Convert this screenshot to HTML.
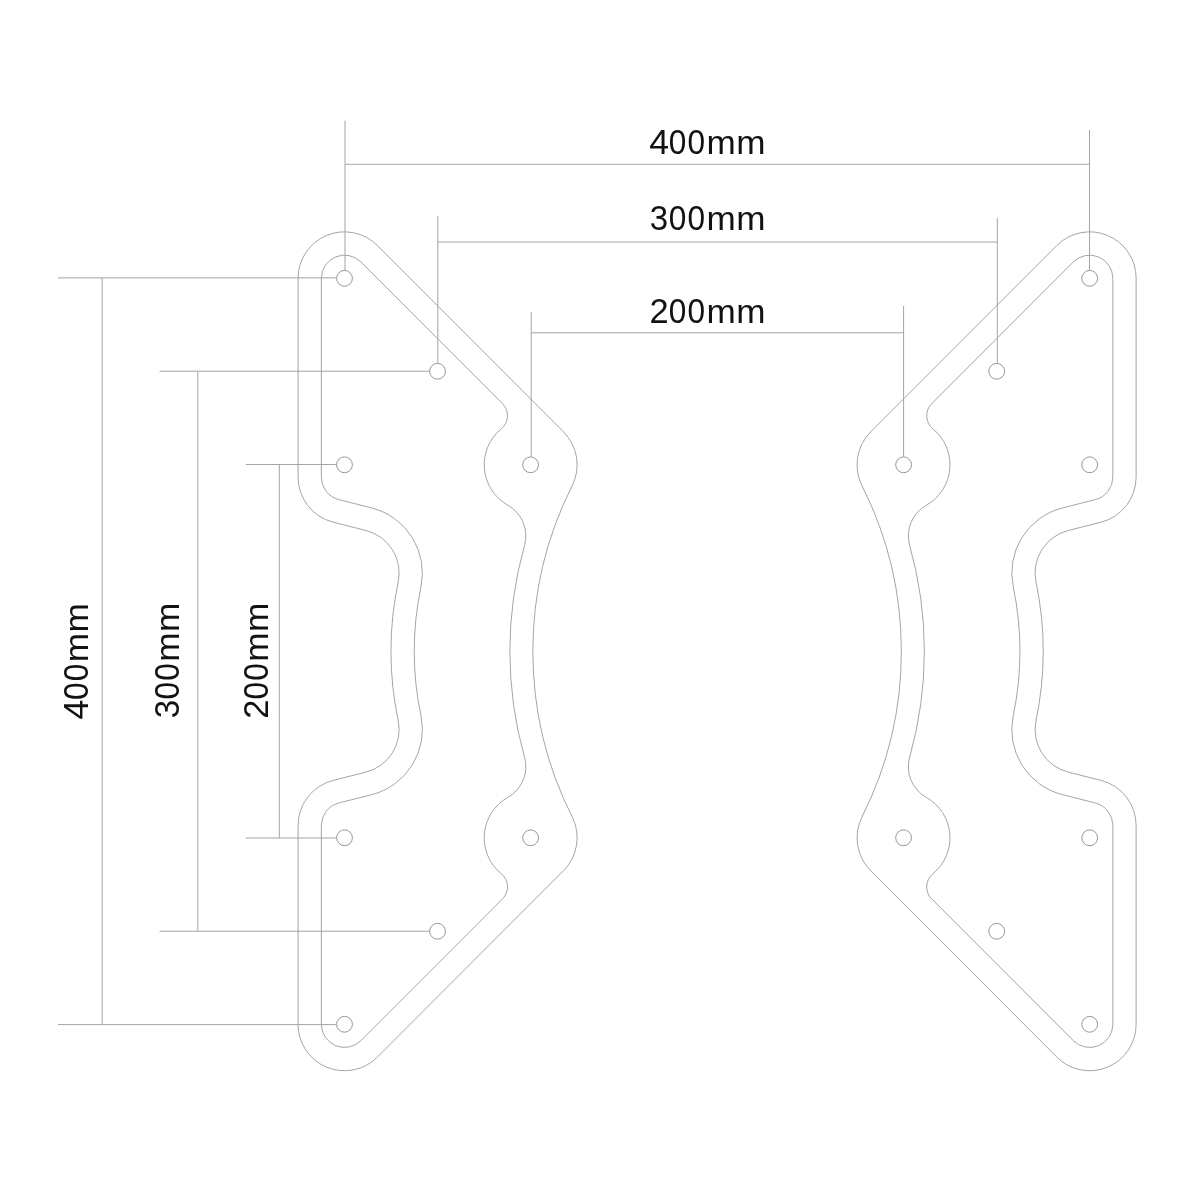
<!DOCTYPE html>
<html><head><meta charset="utf-8"><style>
html,body{margin:0;padding:0;background:#fff;width:1200px;height:1200px;overflow:hidden}
svg{display:block;will-change:transform}
text{font-family:"Liberation Sans",sans-serif;font-size:35.5px;fill:#121212}
</style></head><body>
<svg width="1200" height="1200" viewBox="0 0 1200 1200">
<g fill="none" stroke="#a4a4a4" stroke-width="1">
<g id="h"><path d="M390.95 651.3 A334.93 334.93 0 0 1 398.18 582.09 A43.84 43.84 0 0 0 366.08 530.54 L333.09 522.16 A46.47 46.47 0 0 1 298.07 477.12 L298.07 278.3 A46.43 46.43 0 0 1 377.33 245.47 L563.51 431.89 A46.55 46.55 0 0 1 572.17 485.74 A368.1 368.1 0 0 0 532.84 651.3"/><path d="M414.23 651.3 A311.65 311.65 0 0 1 420.96 586.9 A67.12 67.12 0 0 0 371.82 507.98 L338.83 499.6 A23.19 23.19 0 0 1 321.35 477.12 L321.35 278.3 A23.15 23.15 0 0 1 360.87 261.93 L502.58 403.77 A16.91 16.91 0 0 1 501.31 428.83 A46.39 46.39 0 0 0 507.91 505.26 A35.11 35.11 0 0 1 524.53 545.45 A388.96 388.96 0 0 0 509.85 651.3"/></g><use href="#h" transform="matrix(1 0 0 -1 0 1302.6)"/><use href="#h" transform="matrix(-1 0 0 1 1434.2 0)"/><use href="#h" transform="matrix(-1 0 0 -1 1434.2 1302.6)"/><g stroke="#959595"><circle cx="1089.7" cy="1024.3" r="7.9"/><circle cx="1089.7" cy="278.3" r="7.9"/><circle cx="1089.7" cy="464.8" r="7.9"/><circle cx="1089.7" cy="837.8" r="7.9"/><circle cx="344.5" cy="1024.3" r="7.9"/><circle cx="344.5" cy="278.3" r="7.9"/><circle cx="344.5" cy="464.8" r="7.9"/><circle cx="344.5" cy="837.8" r="7.9"/><circle cx="437.5" cy="371.3" r="7.9"/><circle cx="437.5" cy="931.3" r="7.9"/><circle cx="530.6" cy="464.8" r="7.9"/><circle cx="530.6" cy="837.8" r="7.9"/><circle cx="903.6" cy="464.8" r="7.9"/><circle cx="903.6" cy="837.8" r="7.9"/><circle cx="996.7" cy="371.3" r="7.9"/><circle cx="996.7" cy="931.3" r="7.9"/></g>
<path d="M345 120.7L345 270.3"/><path d="M1089.5 130L1089.5 270.3"/><path d="M345 164.3L1089.5 164.3"/><path d="M437.8 216L437.8 363.3"/><path d="M997.3 218L997.3 363.3"/><path d="M437.8 242L997.3 242"/><path d="M531.2 312L531.2 456.8"/><path d="M903.6 306L903.6 456.8"/><path d="M531.2 332.8L903.6 332.8"/><path d="M58 277.9L336.5 277.9"/><path d="M58 1024.6L336.5 1024.6"/><path d="M102.2 277.9L102.2 1024.6"/><path d="M159.5 371.2L429.5 371.2"/><path d="M159.5 931.2L429.5 931.2"/><path d="M197.8 371.2L197.8 931.2"/><path d="M245.8 464.5L336.5 464.5"/><path d="M245.8 838L336.5 838"/><path d="M279.3 464.5L279.3 838"/>
</g>
<text transform="translate(659.04 153.8) scale(1.0 1)" text-anchor="middle">4</text><text transform="translate(677.54 153.8) scale(0.89 1)" text-anchor="middle">0</text><text transform="translate(696.2 153.8) scale(0.89 1)" text-anchor="middle">0</text><text transform="translate(721 153.8) scale(0.99 0.93)" text-anchor="middle">m</text><text transform="translate(750.75 153.8) scale(0.99 0.93)" text-anchor="middle">m</text><text transform="translate(659.04 229.9) scale(0.93 1)" text-anchor="middle">3</text><text transform="translate(677.54 229.9) scale(0.89 1)" text-anchor="middle">0</text><text transform="translate(696.2 229.9) scale(0.89 1)" text-anchor="middle">0</text><text transform="translate(721 229.9) scale(0.99 0.93)" text-anchor="middle">m</text><text transform="translate(750.75 229.9) scale(0.99 0.93)" text-anchor="middle">m</text><text transform="translate(659.04 322.6) scale(0.97 1)" text-anchor="middle">2</text><text transform="translate(677.54 322.6) scale(0.89 1)" text-anchor="middle">0</text><text transform="translate(696.2 322.6) scale(0.89 1)" text-anchor="middle">0</text><text transform="translate(721 322.6) scale(0.99 0.93)" text-anchor="middle">m</text><text transform="translate(750.75 322.6) scale(0.99 0.93)" text-anchor="middle">m</text><text transform="translate(87.6 709.66) rotate(-90) scale(1.0 1)" text-anchor="middle">4</text><text transform="translate(87.6 691.16) rotate(-90) scale(0.89 1)" text-anchor="middle">0</text><text transform="translate(87.6 672.5) rotate(-90) scale(0.89 1)" text-anchor="middle">0</text><text transform="translate(87.6 647.7) rotate(-90) scale(0.99 0.93)" text-anchor="middle">m</text><text transform="translate(87.6 617.95) rotate(-90) scale(0.99 0.93)" text-anchor="middle">m</text><text transform="translate(179.4 709.16) rotate(-90) scale(0.93 1)" text-anchor="middle">3</text><text transform="translate(179.4 690.66) rotate(-90) scale(0.89 1)" text-anchor="middle">0</text><text transform="translate(179.4 672) rotate(-90) scale(0.89 1)" text-anchor="middle">0</text><text transform="translate(179.4 647.2) rotate(-90) scale(0.99 0.93)" text-anchor="middle">m</text><text transform="translate(179.4 617.45) rotate(-90) scale(0.99 0.93)" text-anchor="middle">m</text><text transform="translate(267.6 709.16) rotate(-90) scale(0.97 1)" text-anchor="middle">2</text><text transform="translate(267.6 690.66) rotate(-90) scale(0.89 1)" text-anchor="middle">0</text><text transform="translate(267.6 672) rotate(-90) scale(0.89 1)" text-anchor="middle">0</text><text transform="translate(267.6 647.2) rotate(-90) scale(0.99 0.93)" text-anchor="middle">m</text><text transform="translate(267.6 617.45) rotate(-90) scale(0.99 0.93)" text-anchor="middle">m</text>
</svg>
</body></html>
